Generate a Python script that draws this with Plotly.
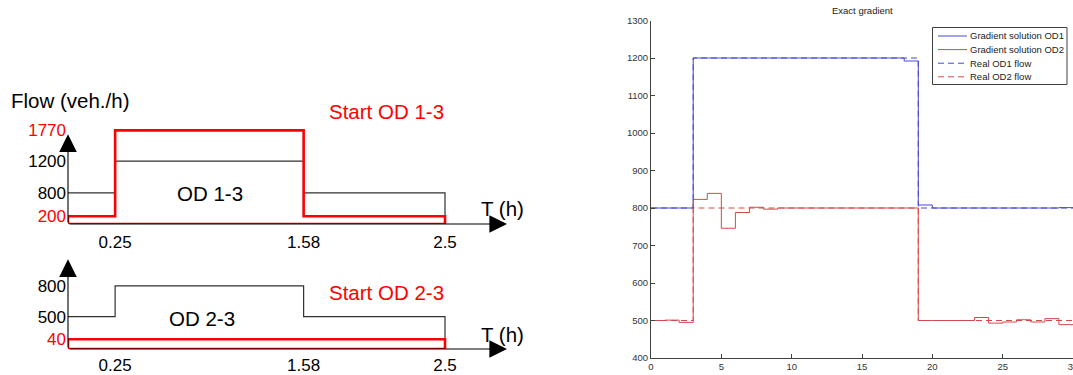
import numpy as np
import plotly.graph_objects as go

# ---------------- Left diagram data (OD demand profiles) ----------------
t_break_h = [0, 0.25, 1.58, 2.5]        # period boundaries (h)
od13_real = [800, 1200, 800]            # OD 1-3 flow per period (veh/h)
od13_start = [200, 1770, 200]           # starting OD 1-3 flow
od23_real = [500, 800, 500]             # OD 2-3 flow per period
od23_start = [40, 40, 40]               # starting OD 2-3 flow
flow_ticks_13 = [200, 800, 1200, 1770]
flow_ticks_23 = [40, 500, 800]
time_ticks = [0.25, 1.58, 2.5]

# ---------------- Right plot data (Exact gradient) ----------------
interval_start = list(range(31))        # 0..30
grad_od1 = [800, 800, 800] + [1200] * 15 + [1192, 808] + [800] * 9 + [801]
grad_od2 = [500, 501, 495, 823, 839, 746, 788, 802, 797] + [800] * 10 + \
           [500, 500, 500, 500, 508, 493, 496, 502, 496, 505, 489]
real_t = [0, 3, 19, 30]
real_od1 = [800, 1200, 800, 800]
real_od2 = [500, 800, 500, 500]

# ---------------- schematic drawing scale (diagram is not to scale) ----------------
sx_time, sx_pos = [0, 0.25, 1.58, 2.5], [0, 1, 5, 8]
sy13_val, sy13_pos = [0, 200, 800, 1200, 1770], [0, 1, 4, 8.05, 12]
sy23_val, sy23_pos = [0, 40, 500, 800], [0, 1.25, 4.15, 8.1]

W, H = 1073, 375
def PX(p): return p / W
def PY(p): return 1 - p / H

def step_xy(tb, v):
    xs, ys = [], []
    for i, val in enumerate(v):
        xs += [tb[i], tb[i + 1]]
        ys += [val, val]
    return xs, ys

def sx(t): return list(np.interp(t, sx_time, sx_pos))

RED = "#ff0000"
BLK = "#303030"
FONT = "Liberation Sans, Arial, sans-serif"

fig = go.Figure()

# ---- top diagram (OD 1-3) ----
bx, by = step_xy(t_break_h, od13_real)
bx, by = bx + [t_break_h[-1]], by + [0]
fig.add_trace(go.Scatter(x=sx(bx), y=list(np.interp(by, sy13_val, sy13_pos)),
                         mode="lines", line=dict(color=BLK, width=1.2),
                         xaxis="x", yaxis="y", showlegend=False, hoverinfo="skip"))
rx, ry = step_xy(t_break_h, od13_start)
rx = [0] + rx + [t_break_h[-1], 0]
ry = [0] + ry + [0, 0]
fig.add_trace(go.Scatter(x=sx(rx), y=list(np.interp(ry, sy13_val, sy13_pos)),
                         mode="lines", line=dict(color=RED, width=2.6),
                         xaxis="x", yaxis="y", showlegend=False, hoverinfo="skip"))

# ---- bottom diagram (OD 2-3) ----
bx, by = step_xy(t_break_h, od23_real)
bx, by = bx + [t_break_h[-1]], by + [0]
fig.add_trace(go.Scatter(x=sx(bx), y=list(np.interp(by, sy23_val, sy23_pos)),
                         mode="lines", line=dict(color=BLK, width=1.2),
                         xaxis="x2", yaxis="y2", showlegend=False, hoverinfo="skip"))
rx, ry = step_xy(t_break_h, od23_start)
rx = [0] + rx + [t_break_h[-1], 0]
ry = [0] + ry + [0, 0]
fig.add_trace(go.Scatter(x=sx(rx), y=list(np.interp(ry, sy23_val, sy23_pos)),
                         mode="lines", line=dict(color=RED, width=2.6),
                         xaxis="x2", yaxis="y2", showlegend=False, hoverinfo="skip"))

# ---- right plot (dashed "real" flows first, gradient solutions on top) ----
BLUE = "#4848d0"
RED2 = "#d44a4a"
g1 = grad_od1 + [grad_od1[-1]]
g2 = grad_od2 + [grad_od2[-1]]
fig.add_trace(go.Scatter(x=real_t, y=real_od1, mode="lines", line_shape="hv",
                         line=dict(color=BLUE, width=1, dash="6px,4px"), name="Real OD1 flow",
                         xaxis="x3", yaxis="y3", showlegend=False))
fig.add_trace(go.Scatter(x=real_t, y=real_od2, mode="lines", line_shape="hv",
                         line=dict(color=RED2, width=1, dash="6px,4px"), name="Real OD2 flow",
                         xaxis="x3", yaxis="y3", showlegend=False))
fig.add_trace(go.Scatter(x=interval_start, y=g1, mode="lines", line_shape="hv",
                         line=dict(color=BLUE, width=1), name="Gradient solution OD1",
                         xaxis="x3", yaxis="y3", showlegend=False))
fig.add_trace(go.Scatter(x=interval_start, y=g2, mode="lines", line_shape="hv",
                         line=dict(color=RED2, width=1), name="Gradient solution OD2",
                         xaxis="x3", yaxis="y3", showlegend=False))

# ---------------- axes ----------------
ux = 47.125   # px per schematic x unit
uy = 7.8      # px per schematic y unit
ox, top_oy, bot_oy = 68, 224, 349
xr_end = (520 - ox) / ux

def red(s): return "<span style='color:%s'>%s</span>" % (RED, s)

tick_font = dict(family=FONT, size=17, color="#000")
common_diag = dict(showgrid=False, zeroline=False, showline=False, ticks="",
                   tickfont=tick_font, fixedrange=True, automargin=False,
                   ticklabeloverflow="allow")

fig.update_layout(
    template="none",
    xaxis=dict(domain=[PX(ox), PX(520)], range=[0, xr_end], anchor="y",
               tickvals=sx(time_ticks), ticktext=[str(t) for t in time_ticks],
               ticklabelstandoff=6, **common_diag),
    yaxis=dict(domain=[PY(top_oy), PY(95)], range=[0, (top_oy - 95) / uy], anchor="x",
               tickvals=list(np.interp(flow_ticks_13, sy13_val, sy13_pos)),
               ticktext=[red(v) if v in (200, 1770) else str(v) for v in flow_ticks_13],
               ticklabelstandoff=1, **common_diag),
    xaxis2=dict(domain=[PX(ox), PX(520)], range=[0, xr_end], anchor="y2",
                tickvals=sx(time_ticks), ticktext=[str(t) for t in time_ticks],
                ticklabelstandoff=4, **common_diag),
    yaxis2=dict(domain=[PY(bot_oy), PY(255)], range=[0, (bot_oy - 255) / uy], anchor="x2",
                tickvals=list(np.interp(flow_ticks_23, sy23_val, sy23_pos)),
                ticktext=[red(v) if v == 40 else str(v) for v in flow_ticks_23],
                ticklabelstandoff=1, **common_diag),
    xaxis3=dict(domain=[PX(651), 1.0], range=[0, 30], anchor="y3",
                tickvals=[0, 5, 10, 15, 20, 25, 30], showgrid=False, zeroline=False,
                showline=True, linecolor="#404040", linewidth=1,
                ticks="inside", ticklen=4, tickcolor="#404040", automargin=False,
                ticklabeloverflow="allow",
                tickfont=dict(family=FONT, size=9.5, color="#333"), fixedrange=True),
    yaxis3=dict(domain=[PY(358), PY(20.5)], range=[400, 1300], anchor="x3",
                dtick=100, showgrid=False, zeroline=False,
                showline=True, linecolor="#404040", linewidth=1,
                ticks="inside", ticklen=4, tickcolor="#404040", automargin=False,
                ticklabeloverflow="allow",
                tickfont=dict(family=FONT, size=9.5, color="#333"), fixedrange=True),
    width=W, height=H, margin=dict(l=0, r=0, t=0, b=0, pad=0, autoexpand=False),
    paper_bgcolor="white", plot_bgcolor="white", showlegend=False,
)

ann = []
# axis arrows of the diagrams
for xa, ya, yt in (("x", "y", 11.5), ("x2", "y2", 11.5)):
    ann.append(dict(x=0, y=yt, ax=0, ay=0, xref=xa, yref=ya, axref=xa, ayref=ya,
                    text="", showarrow=True, arrowhead=2, arrowsize=3.2, arrowwidth=1.1,
                    arrowcolor="#000", startstandoff=0, standoff=0))
    ann.append(dict(x=(507 - ox) / ux, y=0, ax=0, ay=0, xref=xa, yref=ya, axref=xa, ayref=ya,
                    text="", showarrow=True, arrowhead=2, arrowsize=3.2, arrowwidth=1.1,
                    arrowcolor="#000", startstandoff=0, standoff=0))

lab = dict(family=FONT, size=20.5, color="#000")
labr = dict(family=FONT, size=20.5, color=RED)
def txt(x, y, s, f, xanchor="left"):
    return dict(x=PX(x), y=PY(y), xref="paper", yref="paper", text=s, showarrow=False,
                font=f, xanchor=xanchor, yanchor="middle")

ann += [
    txt(9, 101, "Flow (veh./h)", lab),
    txt(327, 112, "Start OD 1-3", labr),
    txt(175, 193, "OD 1-3", lab),
    txt(479, 208, "T (h)", lab),
    txt(327, 292, "Start OD 2-3", labr),
    txt(167, 318, "OD 2-3", lab),
    txt(479, 334, "T (h)", lab),
    txt(862, 11, "Exact gradient", dict(family=FONT, size=9.5, color="#222"), "center"),
]

# legend of the right plot (MATLAB-style box)
leg_names = ["Gradient solution OD1", "Gradient solution OD2", "Real OD1 flow", "Real OD2 flow"]
leg_colors = [BLUE, RED2, BLUE, RED2]
leg_dash = ["solid", "solid", "6px,4px", "6px,4px"]
shapes = [dict(type="rect", xref="paper", yref="paper", x0=PX(932.5), x1=PX(1067),
               y0=PY(84.5), y1=PY(27.5), line=dict(color="#404040", width=1),
               fillcolor="white", layer="above")]
for i, (nm, c, d) in enumerate(zip(leg_names, leg_colors, leg_dash)):
    yy = 36 + i * 13.6
    shapes.append(dict(type="line", xref="paper", yref="paper", x0=PX(938), x1=PX(967),
                       y0=PY(yy), y1=PY(yy), line=dict(color=c, width=1, dash=d), layer="above"))
    ann.append(txt(968, yy, nm, dict(family=FONT, size=9.5, color="#222")))

fig.update_layout(annotations=ann, shapes=shapes)
fig.write_html("out.html")
